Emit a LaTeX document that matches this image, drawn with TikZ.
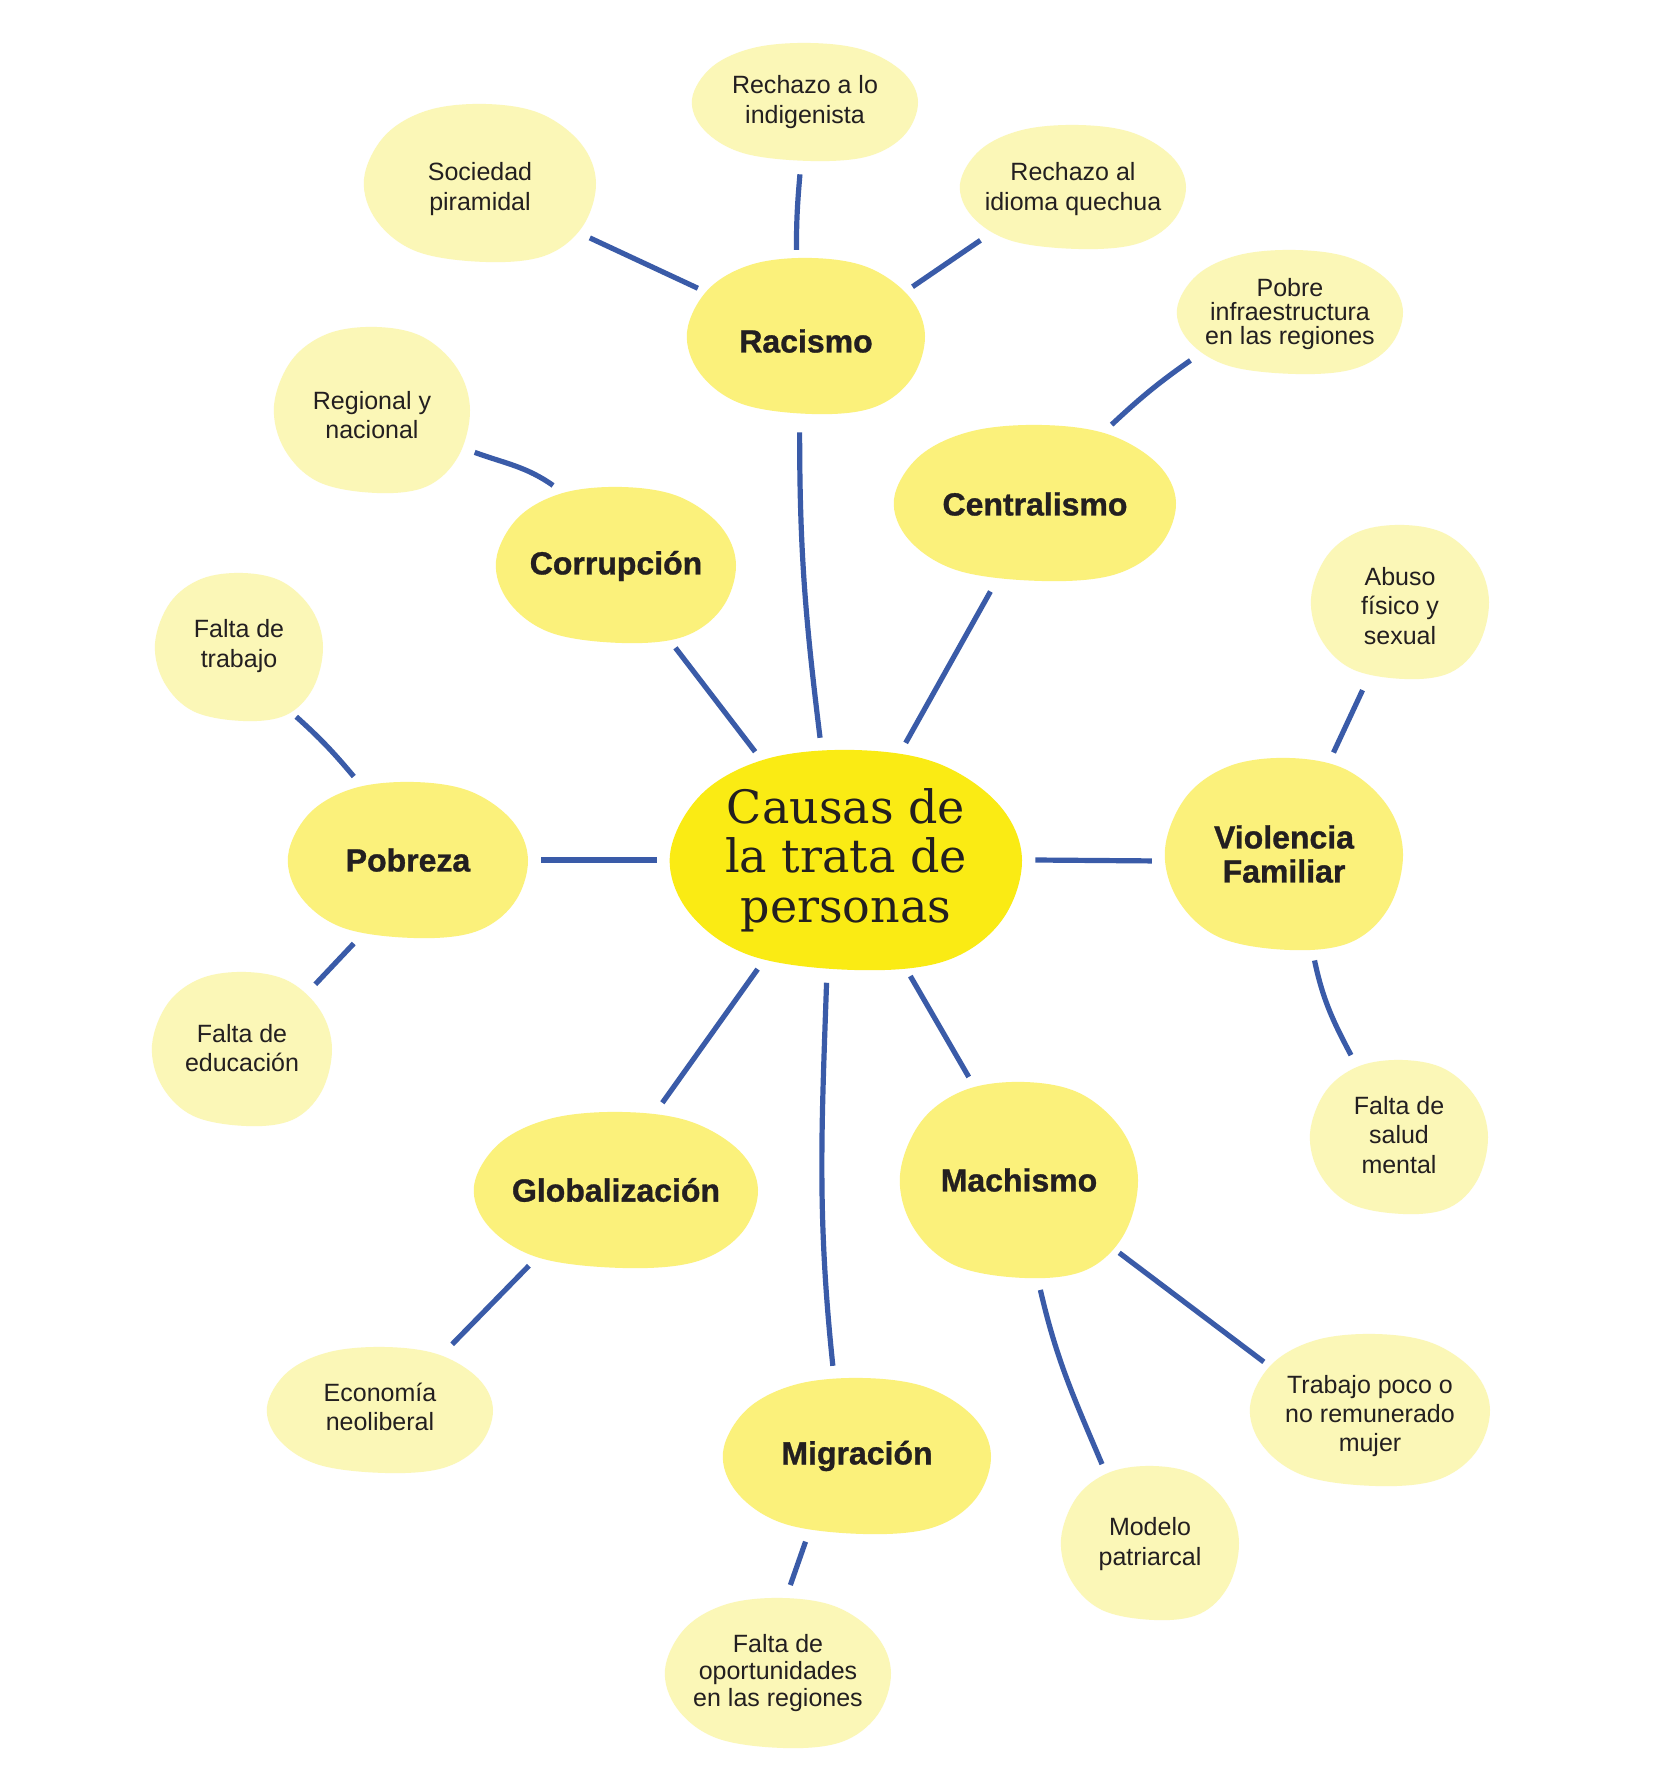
\documentclass[tikz,border=0pt]{standalone}
\usepackage{fontspec}
\setmainfont{Liberation Sans}
\newfontfamily\titlefont{DejaVu Serif}
\usetikzlibrary{shapes.geometric,backgrounds}
\definecolor{chub}{HTML}{FAEB14}
\definecolor{ccat}{HTML}{FBF17B}
\definecolor{cleaf}{HTML}{FBF7B7}
\definecolor{cline}{HTML}{3A5BA8}
\definecolor{ctext}{HTML}{231F20}
\tikzset{
  blobbase/.style={ellipse, inner sep=0pt, text=ctext, align=center},
  hubbox/.style={blobbase, font=\titlefont\fontsize{23}{24.7}\selectfont},
  catbox/.style={blobbase, font=\bfseries\addfontfeature{FakeBold=1}\fontsize{16}{17}\selectfont},
  leafbox/.style={blobbase, font=\fontsize{12.5}{14.6}\selectfont},
  conn/.style={draw=cline, line width=2.6pt},
}
% name, cx, cy, rx, ry (px), style, colour, text, text offset (px)
\newcommand\bnode[9]{%
  \node[#6, minimum width={(#4+13)*1pt}, minimum height={(#5+13)*1pt}] (#1) at (#2,{#3+#9}) {#8};
  \begin{pgfonlayer}{background}
  \fill[#7, shift={(#2,#3)}, xscale=#4, yscale=-#5]
    plot[smooth cycle, tension=0.6] coordinates {(1,0) (0.87,0.5) (0.52,0.88) (0.05,1) (-0.45,0.92) (-0.82,0.6) (-1,0.05) (-0.89,-0.48) (-0.54,-0.87) (0.05,-1) (0.56,-0.92) (0.88,-0.56)};
  \end{pgfonlayer}}
\begin{document}
\begin{tikzpicture}[x=0.5pt,y=-0.5pt]
\begin{pgfonlayer}{background}
\fill[white] (0,0) rectangle (1660,1782);
\end{pgfonlayer}
\useasboundingbox (0,0) rectangle (1660,1782);

\bnode{C}{846}{860}{176}{110}{hubbox}{chub}{Causas de\\la trata de\\personas}{0}

\bnode{R}{806}{336}{119}{78}{catbox}{ccat}{Racismo}{5}
\bnode{CE}{1035}{503}{141}{78}{catbox}{ccat}{Centralismo}{1}
\bnode{CO}{616}{565}{120}{78}{catbox}{ccat}{Corrupción}{1}
\bnode{PO}{408}{860}{120}{78}{catbox}{ccat}{Pobreza}{0}
\bnode{VF}{1284}{854}{119}{96}{catbox}{ccat}{Violencia\\Familiar}{0}
\bnode{GL}{616}{1190}{142}{78}{catbox}{ccat}{Globalización}{0}
\bnode{MI}{857}{1456}{134}{78}{catbox}{ccat}{Migración}{0}
\bnode{MA}{1019}{1180}{119}{98}{catbox}{ccat}{Machismo}{0}

\bnode{RL}{805}{102}{113}{59}{leafbox}{cleaf}{Rechazo a lo\\indigenista}{0}
\bnode{RA}{1073}{187}{113}{62}{leafbox}{cleaf}{Rechazo al\\idioma quechua}{2}
\bnode{SP}{480}{183}{116}{79}{leafbox}{cleaf}{Sociedad\\piramidal}{6}
\bnode{PI}{1290}{312}{113}{62}{leafbox, font=\fontsize{12.5}{12.2}\selectfont}{cleaf}{Pobre\\infraestructura\\en las regiones}{2}
\bnode{RN}{372}{410}{98}{83}{leafbox}{cleaf}{Regional y\\nacional}{5}
\bnode{FT}{239}{647}{84}{74}{leafbox}{cleaf}{Falta de\\trabajo}{-1}
\bnode{FE}{242}{1049}{90}{77}{leafbox}{cleaf}{Falta de\\educación}{-1}
\bnode{AB}{1400}{602}{89}{77}{leafbox}{cleaf}{Abuso\\físico y\\sexual}{4}
\bnode{FS}{1399}{1137}{89}{77}{leafbox}{cleaf}{Falta de\\salud\\mental}{-2}
\bnode{EN}{380}{1410}{113}{63}{leafbox}{cleaf}{Economía\\neoliberal}{-3}
\bnode{FO}{778}{1673}{113}{75}{leafbox, font=\fontsize{12.5}{13.6}\selectfont}{cleaf}{Falta de\\oportunidades\\en las regiones}{0}
\bnode{MP}{1150}{1543}{89}{77}{leafbox}{cleaf}{Modelo\\patriarcal}{1}
\bnode{TP}{1370}{1410}{120}{76}{leafbox}{cleaf}{Trabajo poco o\\no remunerado\\mujer}{6}

\draw[conn] (SP.-24.5) -- (R.154.7);
\draw[conn] (RL.-94) to[out=-95,in=90] (R.96);
\draw[conn] (RA.209) -- (R.27);
\draw[conn] (R.-94.6) to[out=-90,in=97] (C.102.7);
\draw[conn] (CE.46.5) to[out=43,in=-145] (PI.205);
\draw[conn] (CE.-117) -- (C.63);
\draw[conn] (RN.-20.7) to[out=-20,in=145] (CO.128);
\draw[conn] (CO.-54.3) -- (C.130.8);
\draw[conn] (FT.-51.5) to[out=-42,in=130] (PO.123.7);
\draw[conn] (PO.0) -- (C.180.6);
\draw[conn] (PO.-123) -- (FE.41.6);
\draw[conn] (C.-0.6) -- (VF.183.5);
\draw[conn] (AB.-114) -- (VF.64.8);
\draw[conn] (VF.-74.7) to[out=-78,in=118] (FS.121);
\draw[conn] (C.-129.8) -- (GL.62);
\draw[conn] (GL.-139.3) -- (EN.41.2);
\draw[conn] (C.-99.2) to[out=-92,in=96] (MI.105);
\draw[conn] (MI.-121) -- (FO.82.5);
\draw[conn] (C.-61) -- (MA.116.8);
\draw[conn] (MA.-79.6) to[out=-77,in=113] (MP.121.3);
\draw[conn] (MA.-36.8) -- (TP.153.2);
\end{tikzpicture}
\end{document}
